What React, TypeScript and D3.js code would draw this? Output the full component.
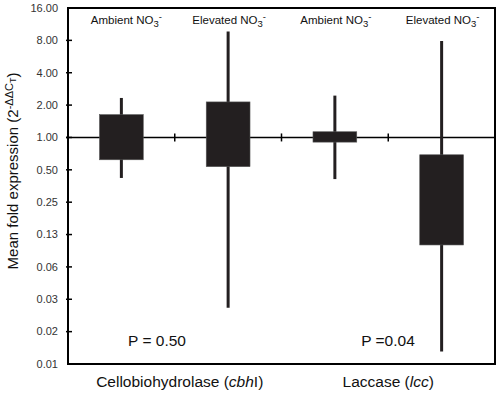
import React from 'react';
import * as d3 from 'd3';

// treatment groups, left to right
const groups = ['Ambient', 'Elevated', 'Ambient', 'Elevated'];
const genes = ['Cellobiohydrolase', 'Laccase'];
const geneItalic = ['cbh', 'lcc'];
const geneSuffix = ['I', ''];
const pValues = ['P = 0.50', 'P =0.04'];

// box and whisker extents, fold expression
const boxLow = [0.62, 0.535, 0.905, 0.1];
const boxHigh = [1.63, 2.14, 1.13, 0.69];
const whiskLow = [0.42, 0.026, 0.41, 0.0102];
const whiskHigh = [2.33, 9.65, 2.45, 7.9];

const yTicks = [16, 8, 4, 2, 1, 0.5, 0.25, 0.125, 0.0625, 0.03125, 0.015625, 0.0078125];
const yTickLabels = ['16.00', '8.00', '4.00', '2.00', '1.00', '0.50', '0.25', '0.13', '0.06', '0.03', '0.02', '0.01'];

const W = 500;
const H = 393;
const left = 68;
const right = 495;
const top = 8;
const bottom = 364;
const dark = '#231f20';
const font = 'Liberation Sans, Arial, sans-serif';

export default function App() {
  const y = d3.scaleLog().base(2).domain([0.0078125, 16]).range([bottom, top]);
  const x = d3.scaleBand<number>().domain(d3.range(groups.length)).range([left, right]);
  const bw = x.bandwidth();
  const boxW = bw * 0.41;
  const cx = (i: number) => (x(i) as number) + bw / 2;
  const y1 = y(1);

  return (
    <svg width={W} height={H} style={{ position: 'absolute', left: 0, top: 0, background: '#fff' }} fontFamily={font}>
      {/* frame */}
      <rect x={left} y={top} width={right - left} height={bottom - top} fill="none" stroke="#000" strokeWidth={2} />

      {/* y ticks */}
      {yTicks.map((t, i) => (
        <g key={i}>
          {i > 0 && i < yTicks.length - 1 && (
            <line x1={left - 2} x2={left + 4} y1={y(t)} y2={y(t)} stroke="#000" strokeWidth={1.5} />
          )}
          <text x={left - 10} y={y(t)} dy="0.35em" textAnchor="end" fontSize={11} fill="#333">
            {yTickLabels[i]}
          </text>
        </g>
      ))}

      {/* reference line at 1 */}
      <line x1={left - 2} x2={right} y1={y1} y2={y1} stroke="#000" strokeWidth={1.5} />
      {d3.range(1, groups.length).map((i) => (
        <line key={i} x1={x(i) as number} x2={x(i) as number} y1={y1 - 4} y2={y1 + 4} stroke="#000" strokeWidth={1.5} />
      ))}

      {/* boxes */}
      {groups.map((g, i) => (
        <g key={i}>
          <line x1={cx(i)} x2={cx(i)} y1={y(whiskHigh[i])} y2={y(whiskLow[i])} stroke={dark} strokeWidth={3} />
          <rect
            x={cx(i) - boxW / 2}
            y={y(boxHigh[i])}
            width={boxW}
            height={y(boxLow[i]) - y(boxHigh[i])}
            fill={dark}
            stroke="#555"
            strokeWidth={0.6}
          />
          <text x={cx(i) + (i === 0 ? 5 : 1)} y={24} textAnchor="middle" fontSize={11.5} fill="#111">
            {g} NO<tspan dy={3} fontSize={9.5}>3</tspan>
            <tspan dy={-7} fontSize={9.5}>-</tspan>
          </text>
        </g>
      ))}

      {/* p values */}
      {pValues.map((p, k) => (
        <text key={k} x={k === 0 ? 157 : 388} y={346} textAnchor="middle" fontSize={15.5} fill="#111">
          {p}
        </text>
      ))}

      {/* gene labels */}
      {genes.map((gname, k) => {
        const mid = (cx(k * 2) + cx(k * 2 + 1)) / 2;
        return (
          <text key={k} x={mid + (k === 0 ? 5 : 0)} y={387} textAnchor="middle" fontSize={15.5} fill="#111">
            {gname} (<tspan fontStyle="italic">{geneItalic[k]}</tspan>
            {geneSuffix[k]})
          </text>
        );
      })}

      {/* y axis title */}
      <text transform="translate(18,171) rotate(-90)" textAnchor="middle" fontSize={15} fill="#111">
        Mean fold expression (2<tspan dy={-5} fontSize={11}>-ΔΔC</tspan>
        <tspan dy={3} fontSize={9}>T</tspan>
        <tspan dy={2} fontSize={15}>)</tspan>
      </text>
    </svg>
  );
}
